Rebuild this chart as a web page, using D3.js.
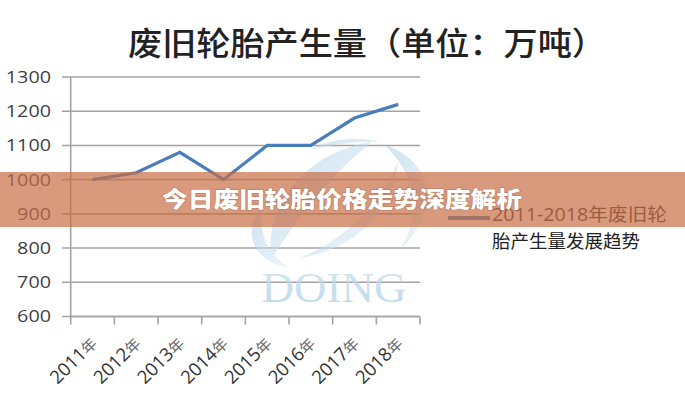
<!DOCTYPE html>
<html><head><meta charset="utf-8">
<script src="https://cdn.jsdelivr.net/npm/d3@7"></script>
<style>
html,body{margin:0;padding:0;background:#fff;}
svg{display:block;}
</style></head>
<body>
<svg id="chart" width="685" height="400"></svg>
<script>
// ---- data ----
const years = ["2011年","2012年","2013年","2014年","2015年","2016年","2017年","2018年"];
const values = [1000, 1020, 1080, 1000, 1100, 1100, 1180, 1220];
const yTicks = [600, 700, 800, 900, 1000, 1100, 1200, 1300];
const titleText = "废旧轮胎产生量（单位：万吨）";
const legendLines = ["2011-2018年废旧轮", "胎产生量发展趋势"];
const bannerText = "今日废旧轮胎价格走势深度解析";
const watermarkText = "DOING";

const svg = d3.select("#chart");
const x = d3.scaleBand().domain(years).range([70.7, 420]).padding(0);
const y = d3.scaleLinear().domain([600, 1300]).range([316.5, 77]);
const cx = d => x(d) + x.bandwidth() / 2;

const gridCol = "#a3a3a3";
const lineCol = "#4a7dbb";
const cjk = "'Noto Sans CJK SC', sans-serif";
const lat = "'Open Sans', 'Noto Sans CJK SC', sans-serif";

// title
svg.append("text").attr("x", 128).attr("y", 55)
  .attr("textLength", 478).attr("lengthAdjust", "spacingAndGlyphs")
  .style("font-family", cjk).style("font-size", "32px").style("font-weight", 500)
  .attr("fill", "#222").text(titleText);

// gridlines
svg.append("g").selectAll("line").data(yTicks).join("line")
  .attr("x1", 62).attr("x2", 420)
  .attr("y1", d => y(d)).attr("y2", d => y(d))
  .attr("stroke", gridCol).attr("stroke-width", 1.6);

// y axis line
svg.append("line").attr("x1", 70.7).attr("x2", 70.7)
  .attr("y1", y(1300)).attr("y2", y(600))
  .attr("stroke", gridCol).attr("stroke-width", 1.6);

// y tick labels via axis
const yAxis = svg.append("g").attr("transform", "translate(51,0)")
  .call(d3.axisLeft(y).tickValues(yTicks).tickSize(0).tickPadding(0).tickFormat(d3.format("d")));
yAxis.select(".domain").remove();
yAxis.selectAll("text")
  .style("font-family", lat).style("font-size", "17px").attr("fill", "#3f3f3f")
  .attr("textLength", d => String(d).length * 11.3).attr("lengthAdjust", "spacingAndGlyphs");

// x axis
const xAxisG = svg.append("g").attr("transform", `translate(0,${y(600)})`);
xAxisG.append("line").attr("x1", 70.7).attr("x2", 420).attr("stroke", gridCol).attr("stroke-width", 1.6);
const edges = years.map(d => x(d)).concat([x(years[years.length - 1]) + x.bandwidth()]);
xAxisG.selectAll("line.tk").data(edges).join("line").attr("class", "tk")
  .attr("x1", d => d).attr("x2", d => d).attr("y1", 0).attr("y2", 8)
  .attr("stroke", gridCol).attr("stroke-width", 1.6);

const xl = svg.append("g").selectAll("text").data(years).join("text")
  .attr("transform", d => `translate(${cx(d) + 1},${340}) rotate(-45)`)
  .attr("text-anchor", "end").attr("dy", "0.35em")
  .style("font-family", lat).style("font-size", "18.5px").attr("fill", "#333");
xl.append("tspan").text(d => d.slice(0, -1));
xl.append("tspan").text(d => d.slice(-1)).style("font-size", "15px").style("font-family", cjk).attr("fill", "#666");

// data line
svg.append("path").datum(values)
  .attr("d", d3.line().x((d, i) => cx(years[i])).y(d => y(d)))
  .attr("fill", "none").attr("stroke", lineCol).attr("stroke-width", 3.2)
  .attr("stroke-linejoin", "miter");

// watermark logo
const defs = svg.append("defs");
const gr = defs.append("linearGradient").attr("id", "wg").attr("x1", 0).attr("y1", 0).attr("x2", 1).attr("y2", 1);
gr.append("stop").attr("offset", 0).attr("stop-color", "#a8cde6");
gr.append("stop").attr("offset", 1).attr("stop-color", "#e3eff7");
const gt = defs.append("linearGradient").attr("id", "wt").attr("x1", 0).attr("y1", 0).attr("x2", 0).attr("y2", 1);
gt.append("stop").attr("offset", 0).attr("stop-color", "#c9e0ee");
gt.append("stop").attr("offset", 1).attr("stop-color", "#a9cde3");
const wm = svg.append("g").attr("opacity", 0.55);
// right crescent
wm.append("path").attr("d", "M385,145 C430,160 445,205 400,250 C420,215 420,180 385,145 Z").attr("fill", "url(#wg)");
// left crescent
wm.append("path").attr("d", "M262,205 C240,235 255,262 290,268 C268,255 258,235 262,205 Z").attr("fill", "url(#wg)");
// big leaf
wm.append("path").attr("d", "M372,142 C310,150 262,205 272,258 C300,215 330,175 372,142 Z").attr("fill", "url(#wg)");
// inner leaf
wm.append("path").attr("d", "M398,160 C385,200 345,240 300,258 C350,250 395,215 398,160 Z").attr("fill", "url(#wg)");
// top arc
wm.append("path").attr("d", "M310,150 C330,138 360,136 380,142 C360,141 335,144 310,150 Z").attr("fill", "url(#wg)");
svg.append("text").attr("x", 334).attr("y", 302).attr("text-anchor", "middle")
  .attr("textLength", 145).attr("lengthAdjust", "spacingAndGlyphs")
  .style("font-family", "'Liberation Serif', serif").style("font-size", "42px")
  .attr("fill", "url(#wt)").attr("opacity", 0.75).text(watermarkText);

// legend
svg.append("line").attr("x1", 448).attr("x2", 490).attr("y1", 218).attr("y2", 218)
  .attr("stroke", lineCol).attr("stroke-width", 4);
svg.append("text").attr("x", 492).attr("y", 221)
  .attr("textLength", 175).attr("lengthAdjust", "spacingAndGlyphs")
  .style("font-family", lat).style("font-size", "18px").attr("fill", "#333").text(legendLines[0]);
svg.append("text").attr("x", 492).attr("y", 248)
  .attr("textLength", 148).attr("lengthAdjust", "spacingAndGlyphs")
  .style("font-family", cjk).style("font-size", "18px").attr("fill", "#222").text(legendLines[1]);

// banner overlay
svg.append("rect").attr("x", 0).attr("y", 172).attr("width", 685).attr("height", 55)
  .attr("fill", "rgb(200,110,70)").attr("opacity", 0.7);
svg.append("text").attr("x", 162).attr("y", 207)
  .attr("textLength", 360).attr("lengthAdjust", "spacingAndGlyphs")
  .style("font-family", cjk).style("font-size", "22px").style("font-weight", 900)
  .attr("fill", "#fff").style("paint-order", "stroke")
  .attr("stroke", "rgba(120,60,30,0.25)").attr("stroke-width", 1.5)
  .text(bannerText);
</script>
</body></html>
